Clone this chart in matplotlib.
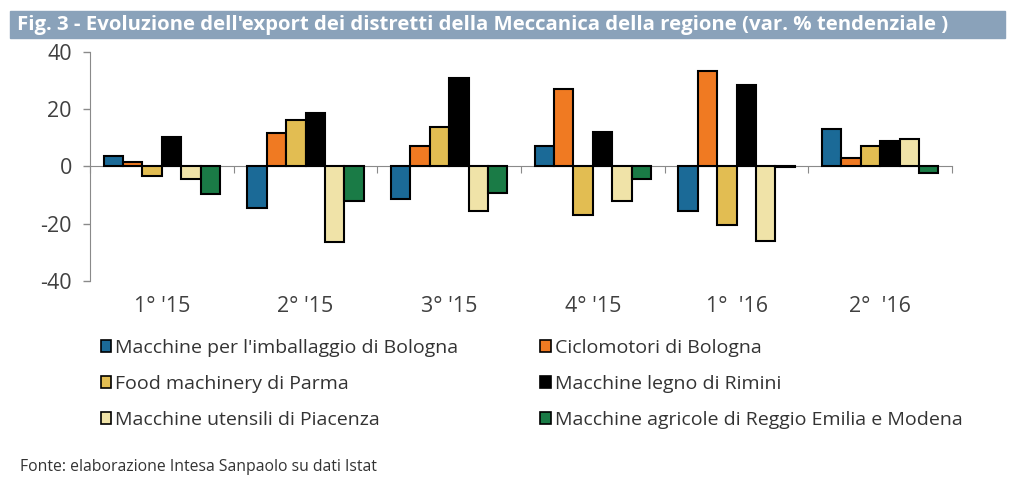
import numpy as np
import matplotlib
matplotlib.use("Agg")
import matplotlib.pyplot as plt
from matplotlib.patches import Rectangle, Patch

plt.rcParams['font.family'] = ['Open Sans', 'DejaVu Sans']
plt.rcParams['axes.unicode_minus'] = False

quarters = ["1° '15", "2° '15", "3° '15", "4° '15", "1°  '16", "2°  '16"]
series = [
    "Macchine per l'imballaggio di Bologna",
    "Ciclomotori di Bologna",
    "Food machinery di Parma",
    "Macchine legno di Rimini",
    "Macchine utensili di Piacenza",
    "Macchine agricole di Reggio Emilia e Modena",
]
imballaggio = [3.7, -14.5, -11.3, 7.3, -15.7, 13.2]
ciclomotori = [1.6, 11.6, 7.2, 27.0, 33.4, 3.1]
food = [-3.3, 16.2, 13.9, -17.1, -20.4, 7.0]
legno = [10.2, 18.7, 31.0, 12.0, 28.6, 9.0]
utensili = [-4.4, -26.4, -15.4, -12.1, -26.0, 9.7]
agricole = [-9.5, -12.1, -9.1, -4.4, -0.3, -2.4]
values = [imballaggio, ciclomotori, food, legno, utensili, agricole]
colors = ['#1b6a97', '#f07a22', '#e2bd52', '#000000', '#f0e3a8', '#1a7b46']

fig = plt.figure(figsize=(10.13, 4.9), dpi=100)

# title bar
fig.patches.append(Rectangle((10/1013, 1-38/490), 995/1013, 27/490,
                             transform=fig.transFigure, color='#8aa2ba', zorder=0))
fig.text(17/1013, 1-25/490,
         "Fig. 3 - Evoluzione dell'export dei distretti della Meccanica della regione (var. % tendenziale )",
         color='white', fontsize=14.7, fontweight='bold', va='center', ha='left')

ax = fig.add_axes([90/1013, 1-281/490, 862/1013, 229/490])
x = np.arange(len(quarters))
w = 0.135
for i, (vals, c) in enumerate(zip(values, colors)):
    ax.bar(x + (i - 2.5) * w, vals, w, color=c, edgecolor='black', linewidth=1.5, zorder=3)

ax.set_xlim(-0.5, len(quarters) - 0.5)
ax.set_ylim(-40, 40)
ax.set_yticks([-40, -20, 0, 20, 40])
ax.tick_params(axis='y', labelsize=15.5, colors='#8a8a8a', labelcolor='#404040',
               length=5, width=1, pad=8)
for s in ['top', 'right']:
    ax.spines[s].set_visible(False)
ax.spines['left'].set_color('#8a8a8a')
ax.spines['bottom'].set_position(('data', 0))
ax.spines['bottom'].set_color('#8a8a8a')
ax.set_xticks(np.arange(len(quarters) + 1) - 0.5)
ax.set_xticklabels([])
ax.tick_params(axis='x', direction='out', length=5, colors='#8a8a8a')
for xi, q in zip(x, quarters):
    ax.text(xi, -0.11, q, transform=ax.get_xaxis_transform(), ha='center', va='center',
            fontsize=15.5, color='#404040')

order = [0, 2, 4, 1, 3, 5]
handles = [Patch(facecolor=colors[k], edgecolor='black', linewidth=1.2, label=series[k]) for k in order]
fig.legend(handles=handles, loc='upper left', bbox_to_anchor=(93/1013, 1-331/490), ncol=2,
           frameon=False, fontsize=14, handlelength=0.55, handleheight=0.55, handletextpad=0.2,
           columnspacing=4.2, labelspacing=0.93, labelcolor='#333333', borderaxespad=0)

fig.text(20/1013, 1-467/490, "Fonte: elaborazione Intesa Sanpaolo su dati Istat",
         fontsize=11.3, color='#333333', va='center', ha='left')

fig.savefig('out.png', dpi=100)
